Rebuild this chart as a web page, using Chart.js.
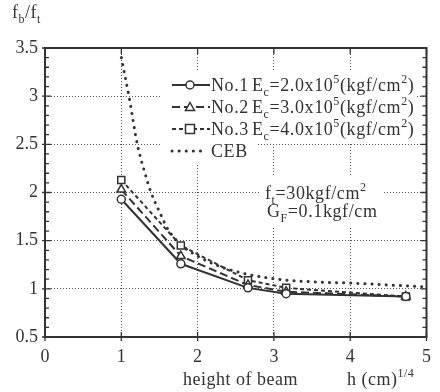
<!DOCTYPE html>
<html><head><meta charset="utf-8">
<script src="https://cdn.jsdelivr.net/npm/chart.js@4/dist/chart.umd.min.js"></script>
<style>html,body{margin:0;padding:0;background:#fff}#wrap{width:440px;height:392px}</style>
</head><body><div id="wrap"><canvas id="c" width="440" height="392"></canvas></div>
<script>
// ---- data ----
const hQuarter = [1, 1.78, 2.66, 3.16, 4.73];          // h^(1/4) of the tested beams
const no1 = [1.93, 1.26, 1.01, 0.95, 0.92];
const no2 = [2.03, 1.34, 1.04, 0.97, 0.92];
const no3 = [2.13, 1.45, 1.09, 1.01, 0.92];
const cebX = [1, 1.1, 1.21, 1.31, 1.39, 1.5, 1.61, 1.78, 2.0, 2.3, 2.66, 3.16, 3.6, 4.0, 4.5, 5.0];
const cebY = [3.40, 3.0, 2.5, 2.2, 2.0, 1.8, 1.62, 1.46, 1.34, 1.23, 1.15, 1.09, 1.07, 1.06, 1.04, 1.02];
const xTickValues = [0, 1, 2, 3, 4, 5];
const yTickValues = [0.5, 1, 1.5, 2, 2.5, 3, 3.5];
const seriesNames = ['No.1', 'No.2', 'No.3', 'CEB'];
const ecValues = ['2.0', '3.0', '4.0'];

const FF = "'Liberation Serif','Times New Roman',serif";
const INK = '#333';

const pts = (xs, ys) => xs.map((x, i) => ({x, y: ys[i]}));

function rich(ctx, x, y, parts, size) {
  for (const [t, k] of parts) {
    const s = k ? Math.round(size * 0.68) : size;
    ctx.font = s + 'px ' + FF;
    const dy = k === 'sub' ? size * 0.28 : (k === 'sup' ? -size * 0.42 : 0);
    ctx.fillText(t, x, y + dy);
    x += ctx.measureText(t).width;
  }
  return x;
}

function marker(ctx, style, x, y) {
  ctx.save();
  ctx.setLineDash([]);
  ctx.lineWidth = 1.5;
  ctx.strokeStyle = INK;
  ctx.fillStyle = '#fff';
  ctx.beginPath();
  if (style === 'circle') ctx.arc(x, y, 4, 0, Math.PI * 2);
  else if (style === 'triangle') { ctx.moveTo(x, y - 4.5); ctx.lineTo(x + 4.5, y + 3.5); ctx.lineTo(x - 4.5, y + 3.5); ctx.closePath(); }
  else if (style === 'rect') ctx.rect(x - 4.5, y - 4.5, 9, 9);
  ctx.fill(); ctx.stroke();
  ctx.restore();
}

const decor = {
  id: 'decor',
  beforeDatasetsDraw(chart) {
    const ctx = chart.ctx, a = chart.chartArea;
    ctx.save();
    ctx.fillStyle = '#fff';
    // legend & annotation backgrounds
    ctx.fillRect(a.left + 115, a.top + 22, 256, 74);
    ctx.fillRect(a.left + 115, a.top + 96, 98, 20);
    ctx.fillRect(a.left + 215, a.top + 129, 122, 49);
    ctx.restore();
  },
  afterDatasetsDraw(chart) {
    const ctx = chart.ctx, a = chart.chartArea;
    const xs = chart.scales.x, ys = chart.scales.y;
    ctx.save();
    // frame
    ctx.strokeStyle = INK;
    ctx.lineWidth = 2;
    ctx.setLineDash([]);
    ctx.strokeRect(a.left, a.top, a.right - a.left, a.bottom - a.top);
    // ticks
    ctx.lineWidth = 1.3;
    ctx.beginPath();
    for (let i = 5; i <= 35; i++) {
      const py = ys.getPixelForValue(i / 10);
      const major = i % 5 === 0;
      ctx.moveTo(a.left - (major ? 3 : 0), py); ctx.lineTo(a.left + (major ? 6 : 4), py);
      ctx.moveTo(a.right, py); ctx.lineTo(a.right - (major ? 6 : 4), py);
    }
    for (const v of xTickValues) {
      const px = xs.getPixelForValue(v);
      ctx.moveTo(px, a.bottom + 4); ctx.lineTo(px, a.bottom - 5);
      ctx.moveTo(px, a.top); ctx.lineTo(px, a.top + 6);
    }
    ctx.stroke();

    // legend
    const lx0 = a.left + 127, lx1 = a.left + 165;
    const rows = [a.top + 37, a.top + 59, a.top + 81, a.top + 103];
    const ds = chart.data.datasets;
    ds.forEach((d, i) => {
      const y = rows[i];
      ctx.save();
      ctx.strokeStyle = INK;
      ctx.lineWidth = d.borderWidth;
      ctx.lineCap = d.borderCapStyle || 'butt';
      ctx.setLineDash(d.borderDash || []);
      ctx.beginPath(); ctx.moveTo(lx0, y); ctx.lineTo(i === 3 ? lx1 - 4 : lx1, y); ctx.stroke();
      ctx.restore();
      if (d.pointStyle && d.pointRadius > 0) marker(ctx, d.pointStyle, (lx0 + lx1) / 2 - 1, y);
      ctx.fillStyle = INK;
      ctx.textBaseline = 'alphabetic';
      ctx.letterSpacing = '0.6px';
      rich(ctx, a.left + 166, y + 6, [[seriesNames[i]]], 18);
      if (i < 3) {
        rich(ctx, a.left + 207, y + 6,
          [['E'], ['c', 'sub'], ['=' + ecValues[i] + 'x10'], ['5', 'sup'], ['(kgf/cm'], ['2', 'sup'], [')']], 18);
      }
    });
    // annotations
    rich(ctx, a.left + 220, a.top + 151, [['f'], ['t', 'sub'], ['=30kgf/cm'], ['2', 'sup']], 18);
    rich(ctx, a.left + 222, a.top + 169, [['G'], ['F', 'sub'], ['=0.1kgf/cm']], 18);
    // axis titles
    ctx.letterSpacing = '0.5px';
    rich(ctx, 12, 18, [['f'], ['b', 'sub'], ['/f'], ['t', 'sub']], 18);
    rich(ctx, 183, 385, [['height of beam']], 18);
    rich(ctx, 347, 385, [['h (cm)'], ['1/4', 'sup']], 18);
    ctx.restore();
  }
};

const common = {borderColor: INK, pointBorderColor: INK, pointBackgroundColor: '#fff', pointBorderWidth: 1.5, showLine: true, fill: false};

new Chart(document.getElementById('c'), {
  type: 'scatter',
  data: {
    datasets: [
      {...common, label: 'No.1', data: pts(hQuarter, no1), borderWidth: 2, pointStyle: 'circle', pointRadius: 4},
      {...common, label: 'No.2', data: pts(hQuarter, no2), borderWidth: 2, borderDash: [8, 4], pointStyle: 'triangle', pointRadius: 5},
      {...common, label: 'No.3', data: pts(hQuarter, no3), borderWidth: 2, borderDash: [4, 3], pointStyle: 'rect', pointRadius: 5},
      {...common, label: 'CEB', data: pts(cebX, cebY), borderWidth: 3, borderDash: [0.1, 7], borderCapStyle: 'round', pointRadius: 0, pointStyle: false, cubicInterpolationMode: 'monotone'}
    ]
  },
  options: {
    responsive: false,
    animation: false,
    devicePixelRatio: 1,
    layout: {padding: {top: 48, right: 7, left: 0, bottom: 0}},
    plugins: {legend: {display: false}, tooltip: {enabled: false}},
    scales: {
      x: {
        type: 'linear', min: 0, max: 5,
        afterFit: s => { s.height = 55; },
        afterBuildTicks: s => { s.ticks = xTickValues.map(v => ({value: v})); },
        ticks: {color: INK, font: {family: FF, size: 18}, padding: 9, maxRotation: 0, callback: v => String(v)},
        grid: {color: '#555', lineWidth: 1, drawTicks: false},
        border: {display: false, dash: [1, 2]}
      },
      y: {
        type: 'linear', min: 0.5, max: 3.5,
        afterFit: s => { s.width = 45; },
        afterBuildTicks: s => { s.ticks = yTickValues.map(v => ({value: v})); },
        ticks: {color: INK, font: {family: FF, size: 18}, padding: 7, callback: v => String(v)},
        grid: {color: '#555', lineWidth: 1, drawTicks: false},
        border: {display: false, dash: [1, 2]}
      }
    }
  },
  plugins: [decor]
});
</script></body></html>
